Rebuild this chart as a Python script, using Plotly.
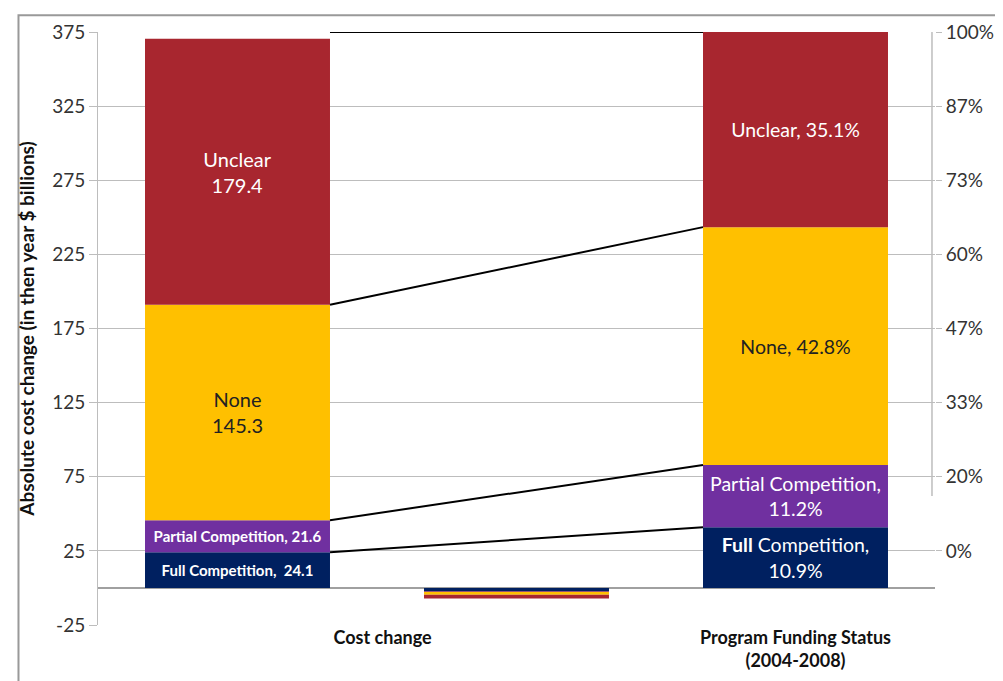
import plotly.graph_objects as go

# data
segments = ["Full Competition", "Partial Competition", "None", "Unclear"]
colors = ["#002060", "#7030A0", "#FFC000", "#A8262F"]
cost_change = [24.1, 21.6, 145.3, 179.4]
funding_pct = [10.9, 11.2, 42.8, 35.1]
stub_values = [-2.2, -0.4, -2.0, -2.5]
axis_top = 375
left_labels = ["<b>Full Competition,  24.1</b>", "<b>Partial Competition, 21.6</b>",
               "None<br>145.3", "Unclear<br>179.4"]
right_labels = ["<b>Full</b> Competition,<br>10.9%", "Partial Competition,<br>11.2%",
                "None, 42.8%", "Unclear, 35.1%"]
y_ticks = [-25, 25, 75, 125, 175, 225, 275, 325, 375]
y_ticktext = ["-25", "25", "75", "125", "175", "225", "275", "325", "375"]
right_ticks = [25, 75, 125, 175, 225, 275, 325, 375]
right_ticktext = ["0%", "20%", "33%", "47%", "60%", "73%", "87%", "100%"]

funding_scaled = [p / 100 * axis_top for p in funding_pct]
bw = 0.663

fig = go.Figure()
for i, seg in enumerate(segments):
    txtcol = "#222222" if seg == "None" else "white"
    fig.add_trace(go.Bar(
        x=[0], y=[cost_change[i]], width=bw, marker=dict(color=colors[i], line=dict(width=0)),
        text=[left_labels[i]], textposition="inside", insidetextanchor="middle",
        textangle=0, constraintext="none",
        textfont=dict(size=15 if i < 2 else 20, color=txtcol, family="Lato"),
        showlegend=False, hoverinfo="skip"))
    fig.add_trace(go.Bar(
        x=[2], y=[funding_scaled[i]], width=bw, marker=dict(color=colors[i], line=dict(width=0)),
        text=[right_labels[i]], textposition="inside", insidetextanchor="middle",
        textangle=0, constraintext="none",
        textfont=dict(size=19.5, color=txtcol, family="Lato"),
        showlegend=False, hoverinfo="skip"))
    fig.add_trace(go.Bar(
        x=[1], y=[stub_values[i]], width=bw, marker=dict(color=colors[i], line=dict(width=0)),
        showlegend=False, hoverinfo="skip"))

# connector lines between cumulative boundaries
cum_l, cum_r = 0, 0
for i in range(len(segments)):
    cum_l += cost_change[i]
    cum_r += funding_scaled[i]
    yl = axis_top if i == len(segments) - 1 else cum_l
    fig.add_trace(go.Scatter(
        x=[bw / 2, 2 - bw / 2], y=[yl, cum_r], mode="lines",
        line=dict(color="black", width=2), showlegend=False, hoverinfo="skip",
        cliponaxis=False))

# dummy trace for the right axis
fig.add_trace(go.Scatter(x=[1], y=[0], yaxis="y2", mode="markers",
                         marker=dict(opacity=0), showlegend=False, hoverinfo="skip"))

# the page body has an 8px margin, so shift everything up/left by 8px
fig.update_layout(
    barmode="relative",
    width=1003, height=681,
    margin=dict(l=90, r=76, t=17, b=64),
    plot_bgcolor="white", paper_bgcolor="white",
    font=dict(family="Lato", size=19, color="#333333"),
    xaxis=dict(range=[-0.5, 2.5], tickvals=[0.52, 2],
               ticktext=["<b>Cost change</b>", "<b>Program Funding Status</b><br><b>(2004-2008)</b>"],
               showgrid=False, zeroline=False, showline=False, ticks="",
               tickfont=dict(size=18, color="#111111")),
    yaxis=dict(range=[-25, 375], tickvals=y_ticks, ticktext=y_ticktext,
               showgrid=True, gridcolor="#BDBDBD",
               gridwidth=1, zeroline=True, zerolinecolor="#A0A0A0", zerolinewidth=1.5,
               showline=True, linecolor="#BDBDBD", ticks="outside", ticklen=8,
               tickcolor="#BDBDBD", tickfont=dict(size=19, color="#333333"),
               title=dict(text="<b>Absolute cost change (in then year $ billions)</b>",
                          font=dict(size=19, color="#111111"), standoff=12)),
    yaxis2=dict(range=[-25, 375], overlaying="y", side="right", tickvals=right_ticks,
                ticktext=right_ticktext, showgrid=False, zeroline=False, showline=False,
                ticks="outside", ticklen=6, tickcolor="#BDBDBD",
                tickfont=dict(size=19, color="#333333")),
    shapes=[
        dict(type="line", xref="paper", yref="y", x0=0.9964, x1=0.9964, y0=375, y1=62,
             line=dict(color="#BDBDBD", width=1.5)),
        dict(type="rect", xref="paper", yref="paper", x0=-0.095, x1=1.2, y0=-0.2, y1=1.0283,
             line=dict(color="#999999", width=2), layer="below"),
    ],
)

fig.write_html("out.html")
